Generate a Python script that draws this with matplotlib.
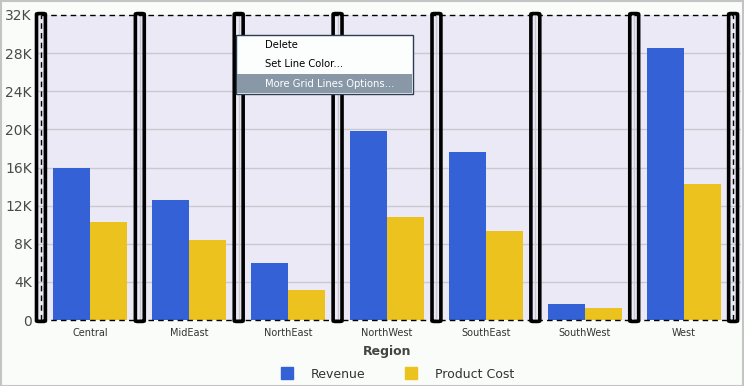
import numpy as np
import matplotlib.pyplot as plt
from matplotlib.patches import Rectangle, FancyBboxPatch

regions = ['Central', 'MidEast', 'NorthEast', 'NorthWest', 'SouthEast', 'SouthWest', 'West']
revenue = [16000, 12550, 6000, 19800, 17600, 1700, 28500]
product_cost = [10250, 8400, 3150, 10800, 9300, 1250, 14250]
ytick_vals = [0, 4000, 8000, 12000, 16000, 20000, 24000, 28000, 32000]
ytick_text = ['0', '4K', '8K', '12K', '16K', '20K', '24K', '28K', '32K']
menu_items = ['Delete', 'Set Line Color...', 'More Grid Lines Options...']

W, H = 744, 386
fig = plt.figure(figsize=(W / 100, H / 100), dpi=100)
fig.patch.set_facecolor('#fafcfa')


def fx(x):
    return x / W


def fy(y):
    return 1 - y / H


# outer gray border
fig.patches.append(Rectangle((0.5 / W, 0.5 / H), 1 - 1.5 / W, 1 - 1.5 / H, transform=fig.transFigure,
                             fill=False, edgecolor='#c4c4c4', lw=1.5))

ax = fig.add_axes([fx(36), fy(320), fx(741) - fx(36), fy(15) - fy(320)])
ax.set_facecolor('#ebe9f5')
for s in ax.spines.values():
    s.set_visible(False)

x = np.arange(len(regions))
bw = 0.374
ax.bar(x - bw / 2, revenue, bw, color='#3461d5', label='Revenue', zorder=2)
ax.bar(x + bw / 2, product_cost, bw, color='#ebc21e', label='Product Cost', zorder=2)

ax.set_xlim(-0.55, 6.58)
ax.set_ylim(0, 32000)

# horizontal grid
for v in ytick_vals[1:-1]:
    ax.axhline(v, color='#c9c9cf', lw=1, zorder=1)

# category boundary grid lines (selected)
bounds = np.arange(len(regions) + 1) - 0.5
for i, b in enumerate(bounds):
    if i == 0 or i == len(bounds) - 1:
        ax.axvline(b, color='black', lw=1, ls=(0, (4, 3)), zorder=3)
    else:
        ax.axvline(b, color='#c9c9cf', lw=1, zorder=1)
    ax.add_patch(FancyBboxPatch((b - 0.045, -150), 0.09, 32300,
                                boxstyle='round,pad=0,rounding_size=0.025',
                                fill=False, edgecolor='black', lw=2.6,
                                zorder=4, clip_on=False, mutation_aspect=3000))

ax.plot([-0.5, 6.5], [32000, 32000], color='black', lw=1, ls=(0, (4, 3)), zorder=3, clip_on=False)
ax.plot([-0.5, 6.5], [0, 0], color='black', lw=1, ls=(0, (4, 3)), zorder=3, clip_on=False)

ax.set_yticks(ytick_vals)
ax.set_yticklabels(ytick_text, fontsize=10, color='#4a4a4a')
ax.set_xticks(x)
ax.set_xticklabels(regions, fontsize=7, color='#333333')
ax.tick_params(axis='both', length=0)
ax.tick_params(axis='y', pad=3)
ax.tick_params(axis='x', pad=6)

fig.text(fx(387), fy(352), 'Region', fontsize=9, fontweight='bold', color='#444444',
         ha='center', va='center')

# legend
fig.patches.append(Rectangle((fx(281), fy(379)), 12 / W, 12 / H, transform=fig.transFigure,
                             color='#3461d5'))
fig.text(fx(311), fy(374), 'Revenue', fontsize=9, color='#333333', va='center')
fig.patches.append(Rectangle((fx(405), fy(379)), 12 / W, 12 / H, transform=fig.transFigure,
                             color='#ebc21e'))
fig.text(fx(435), fy(374), 'Product Cost', fontsize=9, color='#333333', va='center')

# context menu
fig.patches.append(Rectangle((fx(236), fy(94)), 177 / W, 59 / H, transform=fig.transFigure,
                             facecolor='#fcfdfd', edgecolor='#2c3c52', lw=1, zorder=10))
fig.patches.append(Rectangle((fx(237), fy(93)), 175 / W, 19 / H, transform=fig.transFigure,
                             facecolor='#8898a7', edgecolor='none', zorder=11))
menu_y = [45, 64, 84]
for t, yy, c in zip(menu_items, menu_y, ['black', 'black', 'white']):
    fig.text(fx(265), fy(yy), t, fontsize=7.2, color=c, va='center', zorder=12)

fig.savefig('out.png', dpi=100, facecolor=fig.get_facecolor())
